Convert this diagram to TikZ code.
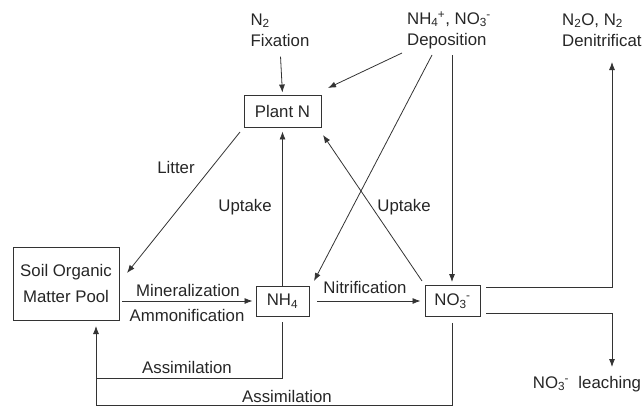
\documentclass[tikz,border=0pt]{standalone}
\usepackage{fontspec}
\setmainfont{Liberation Sans}
\usetikzlibrary{arrows.meta}
\newcommand{\subsup}[2]{\textsubscript{#1}\kern-0.5pt\textsuperscript{#2}}
\newcommand{\labfont}{\fontsize{16.8}{21}\selectfont}
\tikzset{
  lbl/.style={inner sep=0pt, font=\labfont, text=black!85},
  pool/.style={draw=black!80, line width=0.9pt, inner sep=0pt, font=\labfont, text=black!85, align=center},
  arr/.style={draw=black!80, line width=0.8pt, -{Latex[length=8pt,width=6pt]}},
  ln/.style={draw=black!80, line width=0.8pt}
}
\begin{document}
\begin{tikzpicture}[x=1pt,y=-1pt]
\useasboundingbox (0,0) rectangle (642,407);
% text sources
\node[lbl, align=left] (fix) at (280,30) {N\textsubscript{2}\\Fixation};
\node[lbl, align=left] (dep) at (449,30) {NH\subsup{4}{+}, NO\subsup{3}{-}\\Deposition};
\node[lbl, align=left, anchor=west] (den) at (562,30) {N\textsubscript{2}O, N\textsubscript{2}\\Denitrificat};
% pools
\node[pool, minimum width=77, minimum height=32] (plant) at (282.5,111) {Plant N};
\node[pool, minimum width=106, minimum height=73, font=\fontsize{16.8}{26}\selectfont] (soil) at (66,283.5) {Soil Organic\\Matter Pool};
\node[pool, minimum width=53, minimum height=30] (nh4) at (282.5,301) {NH\textsubscript{4}};
\node[pool, minimum width=55, minimum height=31] (no3) at (452.5,301) {NO\subsup{3}{-}};
\node[lbl] (leach) at (587,384) {NO\subsup{3}{-}\ \ leaching};
% edge labels
\node[lbl] (litter) at (176,167) {Litter};
\node[lbl] (up1) at (245,207) {Uptake};
\node[lbl] (up2) at (404,207) {Uptake};
\node[lbl] (minl) at (188,290) {Mineralization};
\node[lbl] (ammo) at (187,315) {Ammonification};
\node[lbl] (nitl) at (365,287) {Nitrification};
\node[lbl] (as1) at (187,367) {Assimilation};
\node[lbl] (as2) at (287,396) {Assimilation};
% connector end points
\coordinate (d1) at (402,53);
\coordinate (d1e) at (328,88);
\coordinate (d2) at (432,55);
\coordinate (d2e) at (314,281);
\coordinate (d3) at (452,55);
\coordinate (lt) at (240,132);
\coordinate (lte) at (127,273);
\coordinate (u2) at (422,281);
\coordinate (u2e) at (323,135);
\coordinate (denA) at (612,62);
\coordinate (leachA) at (612,367);
\coordinate (sA) at (96,326);
\coordinate (j1) at (96,378);
\coordinate (j2) at (96,405);
% connectors
\draw[arr, shorten <=10pt, shorten >=2pt] (fix.south) -- (plant.north);
\draw[arr] (d1) -- (d1e);
\draw[arr] (d2) -- (d2e);
\draw[arr, shorten >=3pt] (d3) -- (d3 |- no3.north);
\draw[arr] (lt) -- (lte);
\draw[arr, shorten >=4pt] (nh4.north) -- (plant.south);
\draw[arr] (u2) -- (u2e);
\draw[arr, shorten <=3pt, shorten >=3pt] (soil.east |- nh4.west) -- (nh4.west);
\draw[arr, shorten <=8pt, shorten >=4pt] (nh4.east) -- (no3.west);
\draw[arr] ([xshift=6pt,yshift=-2pt]no3.north east) -| (denA);
\draw[arr] ([xshift=6pt,yshift=4pt]no3.south east) -| (leachA);
\draw[arr] ([yshift=-6pt]nh4.south) |- (j1) -- (sA);
\draw[ln] ([yshift=-6pt]no3.south) |- (j2) -- (j1);
\end{tikzpicture}
\end{document}
